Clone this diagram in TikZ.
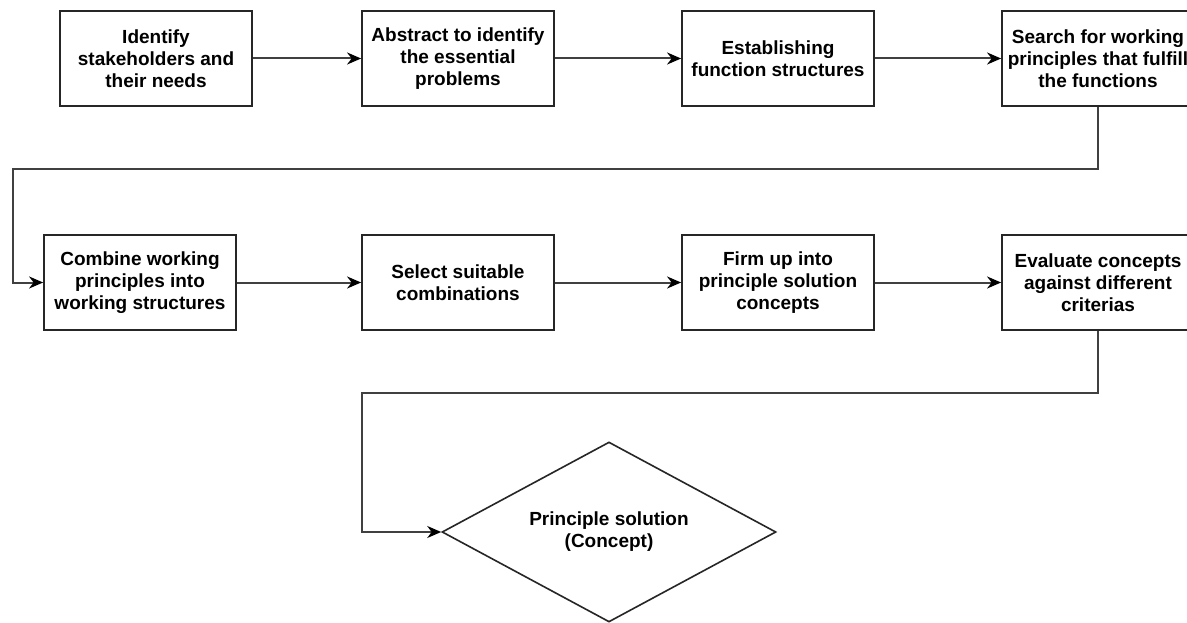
\documentclass[tikz,border=0pt]{standalone}
\usepackage{fontspec}
\setmainfont{Liberation Sans}
\usetikzlibrary{arrows.meta,shapes.geometric}
\begin{document}
\begin{tikzpicture}[x=1pt,y=1pt,
  stepbox/.style={draw=black!85,line width=1.8pt,rectangle,minimum width=192pt,minimum height=95pt,inner sep=0pt,align=center,font=\fontsize{19}{22}\selectfont\bfseries},
  endshape/.style={draw=black!85,line width=1.6pt,diamond,shape aspect=1.85,minimum width=334pt,minimum height=180pt,inner sep=0pt,align=center,font=\fontsize{19}{22}\selectfont\bfseries},
  flow/.style={draw=black!75,line width=2pt,-{Stealth[length=14pt,width=12pt,inset=4.5pt,color=black]}}]
\useasboundingbox[fill=white] (0,0) rectangle (1187,-623);
\node[stepbox] (b1) at (156,-58.5) {Identify\\stakeholders and\\their needs};
\node[stepbox] (b2) at (458,-58.5) {Abstract to identify\\the essential\\problems};
\node[stepbox] (b3) at (778,-58.5) {Establishing\\function structures};
\node[stepbox] (b4) at (1098,-58.5) {Search for working\\principles that fulfill\\the functions};
\node[stepbox] (b5) at (140,-282.5) {Combine working\\principles into\\working structures};
\node[stepbox] (b6) at (458,-282.5) {Select suitable\\combinations};
\node[stepbox] (b7) at (778,-282.5) {Firm up into\\principle solution\\concepts};
\node[stepbox] (b8) at (1098,-282.5) {Evaluate concepts\\against different\\criterias};
\node[endshape] (d) at (609,-532) {Principle solution\\(Concept)};
\coordinate (t1) at (12.7,-169);
\coordinate (t2) at (362,-393);
\draw[flow] (b1) -- (b2);
\draw[flow] (b2) -- (b3);
\draw[flow] (b3) -- (b4);
\draw[flow] (b4.south) |- (t1) |- (b5.west);
\draw[flow] (b5) -- (b6);
\draw[flow] (b6) -- (b7);
\draw[flow] (b7) -- (b8);
\draw[flow] (b8.south) |- (t2) |- (d.west);
\end{tikzpicture}
\end{document}
